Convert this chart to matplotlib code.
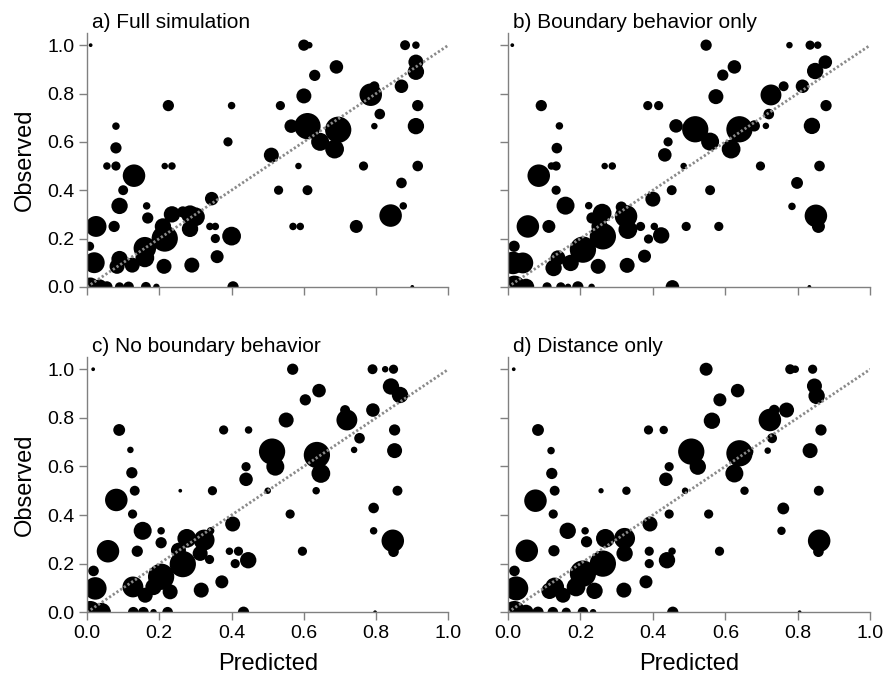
import numpy as np
import matplotlib
matplotlib.use("Agg")
import matplotlib.pyplot as plt

plt.rcParams['font.family'] = ['Liberation Sans', 'DejaVu Sans']

# Panel titles
titles = ["a) Full simulation", "b) Boundary behavior only",
          "c) No boundary behavior", "d) Distance only"]

# (predicted, observed, n); n = relative sample size
pred_a = [0.01, 0.60, 0.615, 0.88, 0.91, 0.91, 0.91, 0.69, 0.63, 0.60, 0.785, 0.795, 0.87, 0.915,
          0.535, 0.40, 0.225, 0.81, 0.795, 0.91, 0.565, 0.61, 0.695, 0.645, 0.685, 0.39, 0.08,
          0.08, 0.055, 0.08, 0.215, 0.235, 0.51, 0.585, 0.765, 0.915, 0.13, 0.10, 0.53, 0.61,
          0.87, 0.875, 0.84, 0.09, 0.165, 0.168, 0.345, 0.235, 0.285, 0.30, 0.285, 0.025, 0.075,
          0.34, 0.355, 0.57, 0.59, 0.745, 0.40, 0.355, 0.215, 0.21, 0.16, 0.16, 0.007, 0.36,
          0.29, 0.213, 0.09, 0.083, 0.125, 0.02, 0.009, 0.035, 0.055, 0.09, 0.115, 0.163,
          0.192, 0.404, 0.90, 0.265]
obs_a = [1.0, 1.0, 1.0, 1.0, 1.0, 0.93, 0.89, 0.91, 0.875, 0.79, 0.795, 0.83, 0.83, 0.75,
         0.75, 0.75, 0.75, 0.715, 0.665, 0.665, 0.665, 0.665, 0.65, 0.60, 0.57, 0.60, 0.665,
         0.575, 0.50, 0.50, 0.50, 0.50, 0.545, 0.50, 0.50, 0.50, 0.46, 0.40, 0.40, 0.40,
         0.43, 0.335, 0.295, 0.335, 0.335, 0.285, 0.365, 0.30, 0.30, 0.29, 0.24, 0.25, 0.25,
         0.25, 0.25, 0.25, 0.25, 0.25, 0.21, 0.20, 0.20, 0.25, 0.16, 0.12, 0.168, 0.125,
         0.09, 0.085, 0.115, 0.085, 0.09, 0.10, 0.0, 0.0, 0.0, 0.0, 0.0, 0.0,
         0.0, 0.0, 0.0, 0.31]
n_a = [1, 9, 3, 7, 4, 16, 19, 13, 9, 16, 36, 7, 13, 9,
       6, 4, 9, 8, 3, 19, 13, 49, 49, 23, 25, 6, 4,
       9, 4, 6, 3, 4, 16, 3, 6, 8, 36, 7, 6, 7,
       8, 4, 36, 19, 4, 9, 13, 19, 23, 25, 19, 31, 9,
       4, 4, 4, 4, 12, 25, 6, 49, 19, 36, 25, 6, 12,
       16, 16, 19, 16, 16, 31, 25, 16, 9, 6, 8, 7,
       3, 9, 1, 9]

pred_b = [0.012, 0.547, 0.777, 0.834, 0.855, 0.876, 0.848, 0.625, 0.593, 0.574, 0.726, 0.761,
          0.813, 0.878, 0.416, 0.386, 0.092, 0.72, 0.712, 0.839, 0.464, 0.517, 0.639, 0.558,
          0.616, 0.442, 0.433, 0.142, 0.135, 0.12, 0.133, 0.267, 0.288, 0.485, 0.697, 0.86,
          0.085, 0.133, 0.452, 0.558, 0.798, 0.784, 0.85, 0.857, 0.159, 0.223, 0.232, 0.40,
          0.26, 0.313, 0.326, 0.331, 0.055, 0.113, 0.366, 0.404, 0.492, 0.582, 0.423, 0.388,
          0.262, 0.253, 0.207, 0.017, 0.377, 0.329, 0.249, 0.138, 0.126, 0.173, 0.041, 0.014,
          0.018, 0.05, 0.108, 0.146, 0.166, 0.193, 0.231, 0.454, 0.832, 0.68]
obs_b = [1.0, 1.0, 1.0, 1.0, 1.0, 0.93, 0.893, 0.91, 0.876, 0.787, 0.794, 0.83,
         0.83, 0.75, 0.75, 0.75, 0.75, 0.715, 0.666, 0.666, 0.666, 0.652, 0.652, 0.601,
         0.57, 0.60, 0.546, 0.666, 0.574, 0.50, 0.50, 0.50, 0.50, 0.50, 0.50, 0.50,
         0.46, 0.40, 0.40, 0.40, 0.43, 0.333, 0.294, 0.25, 0.336, 0.336, 0.285, 0.363,
         0.305, 0.33, 0.292, 0.237, 0.25, 0.25, 0.25, 0.25, 0.25, 0.25, 0.213, 0.198,
         0.209, 0.25, 0.154, 0.168, 0.127, 0.089, 0.085, 0.12, 0.078, 0.099, 0.099, 0.099,
         0.0, 0.0, 0.0, 0.0, 0.0, 0.0, 0.0, 0.0, 0.0, 0.666]
n_b = [1, 9, 3, 6, 4, 13, 19, 13, 9, 16, 31, 7,
       13, 9, 6, 6, 9, 8, 3, 19, 13, 49, 49, 23,
       25, 6, 13, 4, 8, 4, 6, 3, 4, 3, 6, 8,
       36, 6, 7, 7, 10, 4, 36, 12, 23, 4, 9, 16,
       25, 9, 36, 25, 36, 12, 6, 4, 6, 6, 19, 6,
       49, 19, 49, 9, 12, 16, 16, 16, 19, 19, 31, 36,
       36, 19, 6, 6, 3, 9, 3, 13, 1, 9]

pred_c = [0.017, 0.569, 0.79, 0.825, 0.848, 0.841, 0.866, 0.642, 0.604, 0.551, 0.719, 0.714,
          0.791, 0.851, 0.378, 0.447, 0.089, 0.754, 0.739, 0.851, 0.512, 0.521, 0.636, 0.647,
          0.44, 0.44, 0.12, 0.124, 0.132, 0.258, 0.347, 0.50, 0.634, 0.859, 0.081, 0.126,
          0.562, 0.793, 0.793, 0.846, 0.848, 0.154, 0.205, 0.205, 0.403, 0.342, 0.276, 0.324,
          0.313, 0.253, 0.058, 0.139, 0.394, 0.419, 0.596, 0.446, 0.41, 0.339, 0.265, 0.205,
          0.018, 0.373, 0.316, 0.23, 0.127, 0.161, 0.184, 0.023, 0.009, 0.04, 0.128, 0.156,
          0.184, 0.223, 0.433, 0.797]
obs_c = [1.0, 1.0, 1.0, 1.0, 1.0, 0.929, 0.894, 0.912, 0.874, 0.791, 0.791, 0.832,
         0.832, 0.75, 0.75, 0.75, 0.75, 0.716, 0.668, 0.665, 0.661, 0.599, 0.647, 0.571,
         0.599, 0.547, 0.668, 0.574, 0.50, 0.50, 0.50, 0.50, 0.50, 0.50, 0.462, 0.404,
         0.404, 0.429, 0.335, 0.294, 0.249, 0.335, 0.335, 0.286, 0.363, 0.335, 0.304, 0.297,
         0.242, 0.255, 0.251, 0.251, 0.251, 0.251, 0.251, 0.214, 0.20, 0.217, 0.198, 0.146,
         0.17, 0.125, 0.091, 0.084, 0.104, 0.07, 0.104, 0.098, 0.0, 0.0, 0.0, 0.0,
         0.0, 0.0, 0.0, 0.0]
n_c = [1, 9, 7, 3, 6, 19, 19, 13, 9, 16, 31, 7,
       13, 9, 6, 4, 10, 8, 3, 16, 49, 23, 49, 25,
       6, 13, 3, 9, 7, 1, 6, 3, 4, 7, 36, 6,
       6, 8, 4, 36, 8, 23, 4, 9, 16, 4, 25, 31,
       16, 16, 36, 9, 4, 6, 6, 19, 6, 6, 49, 49,
       8, 12, 16, 16, 31, 16, 19, 36, 36, 25, 8, 8,
       3, 8, 9, 1]

pred_d = [0.016, 0.547, 0.779, 0.793, 0.841, 0.846, 0.852, 0.634, 0.585, 0.563, 0.723, 0.735,
          0.769, 0.864, 0.388, 0.43, 0.083, 0.729, 0.717, 0.834, 0.506, 0.524, 0.639, 0.625,
          0.662, 0.445, 0.436, 0.119, 0.121, 0.129, 0.257, 0.327, 0.489, 0.653, 0.858, 0.076,
          0.125, 0.445, 0.554, 0.76, 0.755, 0.859, 0.857, 0.165, 0.213, 0.217, 0.392, 0.269,
          0.322, 0.322, 0.052, 0.127, 0.39, 0.453, 0.584, 0.439, 0.39, 0.262, 0.207, 0.188,
          0.018, 0.381, 0.32, 0.239, 0.129, 0.115, 0.152, 0.023, 0.018, 0.05, 0.083, 0.124,
          0.161, 0.207, 0.235, 0.455, 0.805]
obs_d = [1.0, 1.0, 1.0, 1.0, 1.0, 0.931, 0.89, 0.912, 0.874, 0.788, 0.791, 0.832,
         0.832, 0.75, 0.75, 0.75, 0.75, 0.716, 0.665, 0.665, 0.661, 0.599, 0.654, 0.571,
         0.661, 0.599, 0.547, 0.665, 0.571, 0.50, 0.50, 0.50, 0.50, 0.50, 0.50, 0.459,
         0.404, 0.404, 0.404, 0.427, 0.335, 0.294, 0.249, 0.335, 0.335, 0.29, 0.363, 0.304,
         0.304, 0.242, 0.253, 0.253, 0.251, 0.251, 0.251, 0.214, 0.20, 0.20, 0.159, 0.104,
         0.17, 0.125, 0.091, 0.088, 0.104, 0.088, 0.07, 0.098, 0.0, 0.0, 0.0, 0.0,
         0.0, 0.0, 0.0, 0.0, 0.0]
n_d = [1, 12, 7, 4, 6, 16, 19, 13, 12, 19, 36, 8,
       16, 9, 6, 5, 10, 7, 3, 16, 49, 19, 49, 23,
       9, 6, 13, 4, 9, 7, 2, 5, 3, 5, 7, 36,
       6, 6, 6, 10, 5, 36, 8, 19, 4, 9, 16, 25,
       31, 19, 36, 9, 6, 4, 6, 19, 6, 49, 49, 25,
       8, 12, 16, 19, 25, 19, 16, 41, 36, 16, 9, 8,
       6, 8, 3, 9, 1]

panels = [(pred_a, obs_a, n_a), (pred_b, obs_b, n_b),
          (pred_c, obs_c, n_c), (pred_d, obs_d, n_d)]

ticks = [0.0, 0.2, 0.4, 0.6, 0.8, 1.0]
tick_labels = ["0.0", "0.2", "0.4", "0.6", "0.8", "1.0"]

fig = plt.figure(figsize=(8.88, 6.75), dpi=100)

# axes boxes in figure fractions (left, bottom, width, height)
boxes = [(0.098, 0.575, 0.407, 0.376), (0.572, 0.575, 0.408, 0.376),
         (0.098, 0.093, 0.407, 0.378), (0.572, 0.093, 0.408, 0.378)]

for i, (box, (px, py, n)) in enumerate(zip(boxes, panels)):
    ax = fig.add_axes(box)
    sizes = 7.3 * np.array(n)
    ax.scatter(px, py, s=sizes, c='black', edgecolors='none', zorder=2)
    ax.plot([0, 1], [0, 1], color='#8a8a8a', linestyle=(0, (0.8, 0.8)), linewidth=2, zorder=3)

    ax.set_xlim(0, 1)
    ax.set_ylim(0, 1.05)
    ax.set_xticks(ticks)
    ax.set_yticks(ticks)
    for side in ['top', 'right']:
        ax.spines[side].set_visible(False)
    for side in ['left', 'bottom']:
        ax.spines[side].set_color('#808080')
        ax.spines[side].set_linewidth(1)
    ax.tick_params(direction='out', length=6, width=1, color='#808080',
                   labelsize=14, pad=3)

    if i % 2 == 0:
        ax.set_yticklabels(tick_labels)
        ax.set_ylabel("Observed", fontsize=17, labelpad=8)
    else:
        ax.set_yticklabels([])
    if i >= 2:
        ax.set_xticklabels(tick_labels)
        ax.set_xlabel("Predicted", fontsize=17, labelpad=8)
    else:
        ax.set_xticklabels([])

    ax.text(0.014, 1.005, titles[i], transform=ax.transAxes, fontsize=15,
            ha='left', va='bottom')

fig.savefig("out.png", dpi=100)
